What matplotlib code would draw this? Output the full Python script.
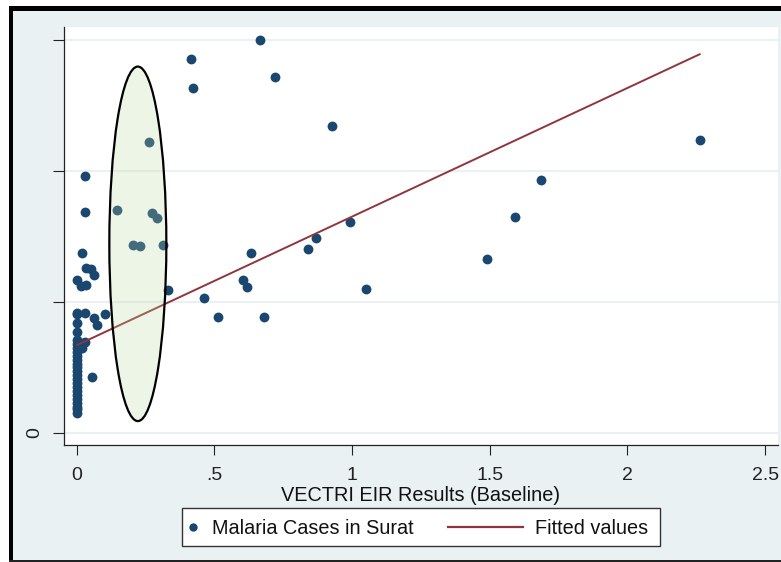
#!/usr/bin/python3

import matplotlib
matplotlib.use("Agg")
from matplotlib import pyplot as plt
from matplotlib.patches import Ellipse, Rectangle
from matplotlib.lines import Line2D

plt.rcParams['font.family'] = ['Liberation Sans', 'DejaVu Sans']

# VECTRI EIR (baseline) against malaria cases
eir = [0.0, 0.0, 0.0, 0.0, 0.0, 0.0, 0.0, 0.0, 0.0, 0.0, 0.0, 0.0, 0.0,
       0.0, 0.0, 0.0, 0.0, 0.0, 0.0, 0.0, 0.0, 0.0, 0.0,
       0.024, 0.018, 0.030, 0.057,
       0.0, 0.030, 0.064, 0.073, 0.103,
       0.0, 0.016, 0.035, 0.035, 0.052, 0.062,
       0.018, 0.030, 0.030,
       0.147, 0.203, 0.231, 0.312, 0.272, 0.290, 0.261,
       0.333, 0.461, 0.514, 0.679, 0.604, 0.618, 1.050,
       0.633, 0.839, 0.868, 0.991,
       0.416, 0.424, 0.666, 0.721, 0.926,
       1.491, 1.593, 1.687, 2.262]
cases = [0.155, 0.18, 0.20, 0.23, 0.26, 0.29, 0.32, 0.35, 0.38, 0.41, 0.44, 0.47, 0.50,
         0.53, 0.56, 0.59, 0.62, 0.65, 0.68, 0.71, 0.77, 0.84, 0.91,
         0.685, 0.646, 0.697, 0.43,
         0.914, 0.914, 0.876, 0.824, 0.906,
         1.168, 1.122, 1.127, 1.26, 1.25, 1.206,
         1.376, 1.685, 1.964,
         1.70, 1.437, 1.427, 1.435, 1.677, 1.641, 2.219,
         1.092, 1.033, 0.883, 0.888, 1.168, 1.112, 1.10,
         1.374, 1.402, 1.491, 1.608,
         2.855, 2.634, 3.0, 2.72, 2.346,
         1.326, 1.649, 1.931, 2.237]

# fitted values (end points of the regression line)
fit_x = [0.002, 2.262]
fit_y = [0.672, 2.891]

x_ticks = [0, 0.5, 1, 1.5, 2, 2.5]
x_labels = ['0', '.5', '1', '1.5', '2', '2.5']
y_ticks = [0, 1, 2, 3]
y_labels = ['0', '', '', '']

# highlighted group
ell_center = (0.222, 1.444)
ell_width = 0.207
ell_height = 2.706

navy = '#1A476F'
maroon = '#90353B'
bluegray = '#EAF1F3'

W, H = 781, 562


def fx(px):
    return px / W


def fy(py):
    return 1 - py / H


fig = plt.figure(figsize=(W / 100, H / 100), dpi=100, facecolor='white')

# outer frame like the Stata screenshot
frame = [
    ((13, 560), (781, 10.5), bluegray),
    ((9, 10.7), (781, 6), 'black'),
    ((9, 561), (13.3, 6), 'black'),
    ((9, 561.5), (781, 559.8), '#222222'),
]
for (x0, y0), (x1, y1), c in frame:
    fig.patches.append(Rectangle((fx(x0), fy(y0)), fx(x1) - fx(x0), fy(y1) - fy(y0),
                                 transform=fig.transFigure, facecolor=c,
                                 edgecolor='none', zorder=-10))

ax = fig.add_axes([fx(64), fy(445), fx(778) - fx(64), fy(27) - fy(445)])
ax.set_facecolor('white')

ax.scatter(eir, cases, s=50, color=navy, linewidths=0, zorder=3)
ax.plot(fit_x, fit_y, color=maroon, lw=1.4, zorder=4)

ax.add_patch(Ellipse(ell_center, ell_width, ell_height, facecolor='#B8D9A0',
                     alpha=0.26, edgecolor='none', zorder=5))
ax.add_patch(Ellipse(ell_center, ell_width, ell_height, facecolor='none',
                     edgecolor='black', lw=1.6, zorder=6))

ax.set_xlim(-0.0461, 2.5465)
ax.set_ylim(-0.0916, 3.099)
ax.set_xticks(x_ticks)
ax.set_xticklabels(x_labels)
ax.set_yticks(y_ticks)
ax.set_yticklabels(y_labels, rotation=90, va='center')
ax.tick_params(axis='x', length=7, width=0.8, pad=9, labelsize=14, colors='#222222')
ax.tick_params(axis='y', length=8, width=0.8, pad=7, labelsize=14, colors='#222222')
ax.grid(axis='y', color=bluegray, lw=1.5, zorder=0)
ax.set_axisbelow(True)

for side in ['top', 'right']:
    ax.spines[side].set_visible(False)
for side in ['left', 'bottom']:
    ax.spines[side].set_color('#222222')
    ax.spines[side].set_linewidth(0.9)

ax.set_xlabel('VECTRI EIR Results (Baseline)', fontsize=14.3, labelpad=1, color='#111111')

# legend box drawn by hand (Stata style)
fig.patches.append(Rectangle((fx(181.7), fy(546)), fx(660) - fx(181.7), fy(508) - fy(546),
                             transform=fig.transFigure, facecolor='white',
                             edgecolor='#333333', lw=1))
fig.add_artist(Line2D([fx(192.7)], [fy(527)], marker='o', markersize=6, color=navy,
                      markeredgewidth=0, transform=fig.transFigure))
fig.text(fx(211.7), fy(528), 'Malaria Cases in Surat', fontsize=14.3, va='center', color='#111111')
fig.add_artist(Line2D([fx(448), fx(523)], [fy(527), fy(527)], color=maroon, lw=1.6,
                      transform=fig.transFigure))
fig.text(fx(535), fy(528), 'Fitted values', fontsize=14.3, va='center', color='#111111')

fig.savefig('out.png', dpi=100)
